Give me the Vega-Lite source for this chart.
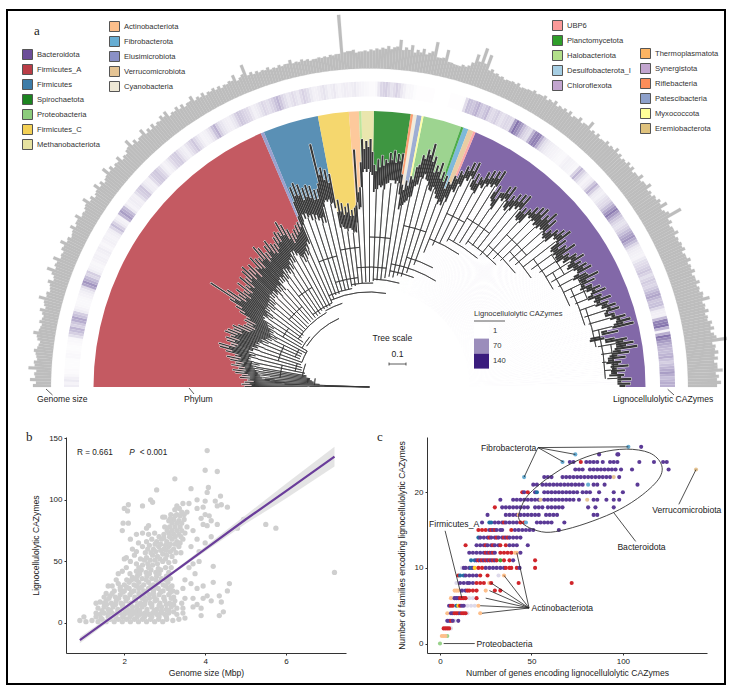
{"$schema":"https://vega.github.io/schema/vega-lite/v6.json","background":"white","padding":{"left":6,"top":9,"right":0,"bottom":0},"bounds":"flush","spacing":0,
"config":{"font":"Liberation Sans","view":{"stroke":null},"axis":{"grid":false,"labelFont":"Liberation Sans","titleFont":"Liberation Sans","labelFontSize":8,"titleFontSize":8.6,"titleFontWeight":"normal","labelColor":"#222","titleColor":"#222","domainColor":"#333","tickColor":"#333","tickSize":2,"labelPadding":2},"legend":{"labelFont":"Liberation Sans","titleFont":"Liberation Sans","labelFontSize":7.6,"labelColor":"#333","symbolOpacity":1}},
"datasets":{
"bins":[{"a":0,"g":3.6,"h":12,"t":125,"d":50},{"a":1,"g":4.2,"h":14,"t":128,"d":60},{"a":2,"g":3.4,"h":6,"t":125,"d":70},{"a":3,"g":4.6,"h":4,"t":122,"d":85},{"a":4,"g":3.6,"h":3,"t":130,"d":95},{"a":5,"g":3.2,"h":3,"t":128,"d":105},{"a":6,"g":3.8,"h":5,"t":135,"d":100},{"a":7,"g":3.0,"h":3,"t":138,"d":108},{"a":8,"g":3.4,"h":4,"t":132,"d":112},{"a":9,"g":4.4,"h":6,"t":140,"d":108},{"a":10,"g":3.2,"h":30,"t":136,"d":115},{"a":11,"g":3.6,"h":45,"t":142,"d":112},{"a":12,"g":3.0,"h":35,"t":146,"d":118},{"a":13,"g":4.0,"h":55,"t":138,"d":122},{"a":14,"g":3.4,"h":30,"t":148,"d":115},{"a":15,"g":4.8,"h":8,"t":155,"d":118},{"a":16,"g":3.6,"h":5,"t":157,"d":120},{"a":17,"g":3.2,"h":6,"t":145,"d":122},{"a":18,"g":4.0,"h":10,"t":150,"d":115},{"a":19,"g":3.2,"h":22,"t":152,"d":118},{"a":20,"g":5.0,"h":65,"t":148,"d":112},{"a":21,"g":3.8,"h":40,"t":155,"d":118},{"a":22,"g":4.6,"h":30,"t":153,"d":115},{"a":23,"g":3.4,"h":8,"t":148,"d":110},{"a":24,"g":3.8,"h":6,"t":150,"d":112},{"a":25,"g":4.6,"h":10,"t":145,"d":108},{"a":26,"g":3.6,"h":8,"t":140,"d":106},{"a":27,"g":3.2,"h":12,"t":138,"d":104},{"a":28,"g":4.2,"h":6,"t":142,"d":108},{"a":29,"g":3.6,"h":10,"t":141,"d":110},{"a":30,"g":4.4,"h":8,"t":150,"d":108},{"a":31,"g":3.4,"h":12,"t":156,"d":112},{"a":32,"g":3.6,"h":40,"t":165,"d":115},{"a":33,"g":4.8,"h":15,"t":190,"d":125},{"a":34,"g":3.8,"h":8,"t":172,"d":122},{"a":35,"g":3.4,"h":60,"t":160,"d":118},{"a":36,"g":4.6,"h":40,"t":165,"d":120},{"a":37,"g":4.0,"h":8,"t":158,"d":125},{"a":38,"g":3.6,"h":12,"t":168,"d":125},{"a":39,"g":5.2,"h":10,"t":160,"d":122},{"a":40,"g":4.4,"h":28,"t":170,"d":125},{"a":41,"g":4.0,"h":35,"t":165,"d":125},{"a":42,"g":4.6,"h":12,"t":172,"d":128},{"a":43,"g":3.8,"h":10,"t":175,"d":130},{"a":44,"g":4.2,"h":30,"t":168,"d":128},{"a":45,"g":5.6,"h":35,"t":172,"d":130},{"a":46,"g":4.6,"h":22,"t":165,"d":125},{"a":47,"g":4.2,"h":8,"t":176,"d":130},{"a":48,"g":5.2,"h":14,"t":172,"d":130},{"a":49,"g":4.4,"h":28,"t":170,"d":128},{"a":50,"g":4.6,"h":32,"t":182,"d":135},{"a":51,"g":4.2,"h":15,"t":178,"d":135},{"a":52,"g":4.8,"h":10,"t":170,"d":132},{"a":53,"g":5.0,"h":22,"t":176,"d":135},{"a":54,"g":4.0,"h":35,"t":180,"d":140},{"a":55,"g":4.4,"h":18,"t":174,"d":138},{"a":56,"g":4.2,"h":8,"t":172,"d":135},{"a":57,"g":3.8,"h":10,"t":178,"d":140},{"a":58,"g":4.6,"h":22,"t":182,"d":145},{"a":59,"g":3.8,"h":48,"t":180,"d":145},{"a":60,"g":4.0,"h":20,"t":190,"d":152},{"a":61,"g":3.6,"h":12,"t":185,"d":150},{"a":62,"g":3.8,"h":10,"t":178,"d":148},{"a":63,"g":3.6,"h":18,"t":172,"d":140},{"a":64,"g":3.4,"h":35,"t":175,"d":142},{"a":65,"g":3.6,"h":28,"t":178,"d":145},{"a":66,"g":4.4,"h":22,"t":180,"d":150},{"a":67,"g":3.4,"h":10,"t":185,"d":155},{"a":68,"g":5.6,"h":15,"t":215,"d":178},{"a":69,"g":3.6,"h":25,"t":218,"d":180},{"a":70,"g":3.4,"h":20,"t":215,"d":180},{"a":71,"g":3.2,"h":30,"t":210,"d":176},{"a":72,"g":3.4,"h":45,"t":212,"d":176},{"a":73,"g":3.0,"h":25,"t":210,"d":174},{"a":74,"g":3.2,"h":15,"t":205,"d":170},{"a":75,"g":3.0,"h":22,"t":205,"d":170},{"a":76,"g":3.6,"h":15,"t":250,"d":190},{"a":77,"g":3.0,"h":28,"t":225,"d":190},{"a":78,"g":3.2,"h":20,"t":222,"d":187},{"a":79,"g":3.0,"h":10,"t":217,"d":182},{"a":80,"g":2.8,"h":12,"t":190,"d":165},{"a":81,"g":3.0,"h":18,"t":186,"d":160},{"a":82,"g":3.0,"h":10,"t":182,"d":157},{"a":83,"g":3.2,"h":15,"t":185,"d":160},{"a":84,"g":3.2,"h":8,"t":178,"d":155},{"a":85,"g":11.0,"h":12,"t":180,"d":155},{"a":86,"g":3.6,"h":10,"t":238,"d":185},{"a":87,"g":3.8,"h":14,"t":200,"d":180},{"a":88,"g":3.4,"h":8,"t":248,"d":215},{"a":89,"g":3.6,"h":6,"t":246,"d":215},{"a":90,"g":3.8,"h":4,"t":248,"d":215},{"a":91,"g":4.0,"h":5,"t":222,"d":195},{"a":92,"g":4.2,"h":25,"t":228,"d":198},{"a":93,"g":4.6,"h":30,"t":232,"d":200},{"a":94,"g":4.4,"h":18,"t":228,"d":198},{"a":95,"g":6.0,"h":28,"t":235,"d":205},{"a":96,"g":4.6,"h":15,"t":238,"d":208},{"a":97,"g":5.2,"h":6,"t":235,"d":205},{"a":98,"g":4.4,"h":5,"t":236,"d":206},{"a":99,"g":4.8,"h":2,"t":205,"d":180},{"a":100,"g":4.2,"h":2,"t":210,"d":185},{"a":101,"g":6.6,"h":2,"t":215,"d":190},{"a":102,"g":3.6,"h":2,"t":225,"d":195},{"a":103,"g":5.5,"h":1,"t":238,"d":208},{"a":104,"g":3.2,"h":1,"t":245,"d":215},{"a":105,"g":3.0,"h":1,"t":252,"d":215},{"a":106,"g":3.4,"h":2,"t":240,"d":210},{"a":107,"g":3.6,"h":2,"t":232,"d":205},{"a":108,"g":6.3,"h":3,"t":236,"d":208},{"a":109,"g":8.0,"h":40,"t":228,"d":200},{"a":110,"g":7.0,"h":35,"t":225,"d":195},{"a":111,"g":4.4,"h":48,"t":220,"d":195},{"a":112,"g":4.0,"h":30,"t":228,"d":200},{"a":113,"g":3.8,"h":42,"t":235,"d":212},{"a":114,"g":3.6,"h":22,"t":242,"d":220},{"a":115,"g":3.8,"h":30,"t":248,"d":228},{"a":116,"g":4.0,"h":18,"t":250,"d":232},{"a":117,"g":3.6,"h":25,"t":240,"d":222},{"a":118,"g":3.8,"h":22,"t":238,"d":220},{"a":119,"g":4.2,"h":85,"t":246,"d":228},{"a":120,"g":4.0,"h":60,"t":250,"d":232},{"a":121,"g":4.4,"h":30,"t":252,"d":234},{"a":122,"g":4.2,"h":20,"t":255,"d":237},{"a":123,"g":4.6,"h":70,"t":240,"d":222},{"a":124,"g":4.2,"h":75,"t":235,"d":215},{"a":125,"g":4.4,"h":30,"t":245,"d":228},{"a":126,"g":4.6,"h":15,"t":248,"d":230},{"a":127,"g":4.2,"h":10,"t":240,"d":222},{"a":128,"g":4.8,"h":8,"t":245,"d":225},{"a":129,"g":4.4,"h":6,"t":248,"d":230},{"a":130,"g":5.6,"h":5,"t":250,"d":232},{"a":131,"g":4.4,"h":10,"t":238,"d":222},{"a":132,"g":4.6,"h":8,"t":240,"d":222},{"a":133,"g":4.2,"h":6,"t":246,"d":232},{"a":134,"g":4.8,"h":45,"t":250,"d":232},{"a":135,"g":4.6,"h":20,"t":252,"d":230},{"a":136,"g":5.2,"h":8,"t":248,"d":230},{"a":137,"g":4.8,"h":15,"t":255,"d":232},{"a":138,"g":4.6,"h":48,"t":250,"d":232},{"a":139,"g":5.0,"h":15,"t":240,"d":228},{"a":140,"g":5.0,"h":10,"t":245,"d":228},{"a":141,"g":4.6,"h":18,"t":250,"d":236},{"a":142,"g":5.4,"h":25,"t":254,"d":236},{"a":143,"g":4.8,"h":50,"t":245,"d":226},{"a":144,"g":5.6,"h":80,"t":242,"d":226},{"a":145,"g":4.8,"h":45,"t":250,"d":226},{"a":146,"g":5.0,"h":25,"t":240,"d":224},{"a":147,"g":5.4,"h":18,"t":246,"d":230},{"a":148,"g":6.2,"h":30,"t":252,"d":236},{"a":149,"g":5.0,"h":50,"t":246,"d":230},{"a":150,"g":8.0,"h":65,"t":250,"d":235},{"a":151,"g":5.2,"h":40,"t":253,"d":237},{"a":152,"g":4.8,"h":15,"t":245,"d":230},{"a":153,"g":5.4,"h":10,"t":256,"d":235},{"a":154,"g":4.8,"h":8,"t":250,"d":235},{"a":155,"g":5.0,"h":20,"t":245,"d":232},{"a":156,"g":5.2,"h":25,"t":252,"d":237},{"a":157,"g":4.8,"h":35,"t":256,"d":240},{"a":158,"g":5.4,"h":20,"t":250,"d":235},{"a":159,"g":5.0,"h":32,"t":258,"d":240},{"a":160,"g":5.4,"h":25,"t":254,"d":240},{"a":161,"g":5.0,"h":40,"t":260,"d":245},{"a":162,"g":5.6,"h":55,"t":262,"d":248},{"a":163,"g":5.2,"h":35,"t":256,"d":246},{"a":164,"g":5.6,"h":40,"t":266,"d":250},{"a":165,"g":6.6,"h":12,"t":270,"d":255},{"a":166,"g":5.4,"h":10,"t":272,"d":250},{"a":167,"g":5.8,"h":75,"t":255,"d":238},{"a":168,"g":5.4,"h":85,"t":240,"d":225},{"a":169,"g":6.0,"h":8,"t":262,"d":240},{"a":170,"g":6.2,"h":85,"t":268,"d":250},{"a":171,"g":6.0,"h":60,"t":271,"d":248},{"a":172,"g":8.4,"h":45,"t":262,"d":245},{"a":173,"g":6.0,"h":40,"t":258,"d":240},{"a":174,"g":6.4,"h":50,"t":253,"d":238},{"a":175,"g":6.2,"h":30,"t":260,"d":242},{"a":176,"g":6.0,"h":45,"t":256,"d":242},{"a":177,"g":7.0,"h":60,"t":255,"d":240},{"a":178,"g":6.2,"h":40,"t":262,"d":248},{"a":179,"g":6.6,"h":50,"t":261,"d":248},
{"a":0.5,"g":3.0,"h":8,"t":118,"d":62},{"a":1.5,"g":3.2,"h":10,"t":120,"d":72},{"a":2.5,"g":3.0,"h":4,"t":116,"d":88},{"a":3.5,"g":3.4,"h":3,"t":120,"d":100},{"a":4.5,"g":3.0,"h":3,"t":120,"d":108},{"a":5.5,"g":3.4,"h":5,"t":122,"d":110},{"a":6.5,"g":3.2,"h":4,"t":126,"d":112},{"a":7.5,"g":2.8,"h":3,"t":125,"d":114},{"a":8.5,"g":3.6,"h":5,"t":126,"d":116},{"a":9.5,"g":3.4,"h":20,"t":130,"d":118},{"a":10.5,"g":3.0,"h":40,"t":128,"d":120},{"a":11.5,"g":3.2,"h":28,"t":134,"d":120},{"a":12.5,"g":3.4,"h":50,"t":132,"d":124},{"a":13.5,"g":3.0,"h":38,"t":135,"d":124},{"a":14.5,"g":3.6,"h":12,"t":142,"d":122},{"a":15.5,"g":3.4,"h":6,"t":146,"d":125},{"a":16.5,"g":3.0,"h":5,"t":140,"d":126},{"a":17.5,"g":3.4,"h":8,"t":138,"d":122},{"a":18.5,"g":3.0,"h":14,"t":142,"d":124},{"a":19.5,"g":3.8,"h":55,"t":138,"d":120},{"a":20.5,"g":3.4,"h":50,"t":144,"d":122},{"a":21.5,"g":3.6,"h":25,"t":142,"d":120},{"a":22.5,"g":3.2,"h":12,"t":138,"d":116},{"a":23.5,"g":3.2,"h":7,"t":140,"d":118},{"a":24.5,"g":3.6,"h":8,"t":132,"d":114},{"a":25.5,"g":3.4,"h":10,"t":130,"d":112},{"a":26.5,"g":3.0,"h":10,"t":128,"d":110},{"a":27.5,"g":3.4,"h":8,"t":132,"d":112},{"a":28.5,"g":3.2,"h":8,"t":130,"d":114},{"a":29.5,"g":3.6,"h":9,"t":138,"d":114},{"a":30.5,"g":3.2,"h":10,"t":145,"d":118},{"a":31.5,"g":3.2,"h":25,"t":150,"d":120},{"a":32.5,"g":3.8,"h":28,"t":160,"d":126},{"a":33.5,"g":3.4,"h":10,"t":155,"d":128},{"a":34.5,"g":3.0,"h":45,"t":150,"d":124},{"a":35.5,"g":3.6,"h":50,"t":152,"d":126},{"a":36.5,"g":3.4,"h":15,"t":148,"d":130},{"a":37.5,"g":3.2,"h":10,"t":152,"d":130},{"a":38.5,"g":3.8,"h":11,"t":150,"d":130},{"a":39.5,"g":3.8,"h":20,"t":155,"d":132},{"a":40.5,"g":3.6,"h":32,"t":152,"d":132},{"a":41.5,"g":3.8,"h":18,"t":158,"d":134},{"a":42.5,"g":3.4,"h":11,"t":160,"d":136},{"a":43.5,"g":3.6,"h":22,"t":156,"d":135},{"a":44.5,"g":4.4,"h":33,"t":160,"d":136},{"a":45.5,"g":4.0,"h":28,"t":154,"d":132},{"a":46.5,"g":3.8,"h":12,"t":162,"d":136},{"a":47.5,"g":4.2,"h":10,"t":160,"d":137},{"a":48.5,"g":3.8,"h":22,"t":158,"d":135},{"a":49.5,"g":3.8,"h":30,"t":165,"d":140},{"a":50.5,"g":3.8,"h":22,"t":165,"d":142},{"a":51.5,"g":4.0,"h":12,"t":160,"d":140},{"a":52.5,"g":4.2,"h":16,"t":162,"d":142},{"a":53.5,"g":3.6,"h":28,"t":168,"d":146},{"a":54.5,"g":3.8,"h":25,"t":164,"d":145},{"a":55.5,"g":3.6,"h":12,"t":162,"d":142},{"a":56.5,"g":3.4,"h":9,"t":165,"d":146},{"a":57.5,"g":3.8,"h":15,"t":170,"d":150},{"a":58.5,"g":3.4,"h":38,"t":170,"d":152},{"a":59.5,"g":3.4,"h":30,"t":175,"d":156},{"a":60.5,"g":3.2,"h":16,"t":174,"d":156},{"a":61.5,"g":3.4,"h":11,"t":168,"d":152},{"a":62.5,"g":3.2,"h":14,"t":162,"d":146},{"a":63.5,"g":3.0,"h":28,"t":165,"d":148},{"a":64.5,"g":3.2,"h":32,"t":168,"d":150},{"a":65.5,"g":3.4,"h":25,"t":170,"d":154},{"a":66.5,"g":3.0,"h":15,"t":174,"d":158},{"a":67.5,"g":3.8,"h":12,"t":200,"d":175},{"a":68.5,"g":3.2,"h":20,"t":205,"d":185},{"a":69.5,"g":3.0,"h":22,"t":204,"d":185},{"a":70.5,"g":3.0,"h":25,"t":198,"d":182},{"a":71.5,"g":3.0,"h":38,"t":200,"d":182},{"a":72.5,"g":2.8,"h":35,"t":198,"d":180},{"a":73.5,"g":2.8,"h":20,"t":195,"d":176},{"a":74.5,"g":2.8,"h":18,"t":195,"d":176},{"a":75.5,"g":3.0,"h":18,"t":210,"d":186},{"a":76.5,"g":2.8,"h":22,"t":218,"d":192},{"a":77.5,"g":2.8,"h":24,"t":212,"d":192},{"a":78.5,"g":2.8,"h":14,"t":208,"d":188},{"a":79.5,"g":2.6,"h":10,"t":178,"d":162},{"a":80.5,"g":2.8,"h":15,"t":178,"d":162},{"a":81.5,"g":2.8,"h":14,"t":174,"d":160},{"a":82.5,"g":2.8,"h":12,"t":176,"d":160},{"a":83.5,"g":3.0,"h":10,"t":172,"d":158},{"a":84.5,"g":3.2,"h":10,"t":172,"d":156},{"a":85.5,"g":3.4,"h":11,"t":182,"d":165},{"a":86.5,"g":3.6,"h":12,"t":195,"d":178},{"a":87.5,"g":3.2,"h":10,"t":225,"d":200},{"a":88.5,"g":3.4,"h":7,"t":238,"d":218},{"a":89.5,"g":3.4,"h":5,"t":240,"d":218},{"a":90.5,"g":3.6,"h":4,"t":235,"d":212},{"a":91.5,"g":3.8,"h":15,"t":216,"d":198},{"a":92.5,"g":4.0,"h":28,"t":220,"d":202},{"a":93.5,"g":4.0,"h":24,"t":222,"d":202},{"a":94.5,"g":4.6,"h":22,"t":225,"d":204},{"a":95.5,"g":4.0,"h":22,"t":228,"d":208},{"a":96.5,"g":4.2,"h":10,"t":226,"d":208},{"a":97.5,"g":3.8,"h":6,"t":228,"d":208},{"a":98.5,"g":4.0,"h":3,"t":215,"d":195},{"a":99.5,"g":3.8,"h":2,"t":200,"d":184},{"a":100.5,"g":4.6,"h":2,"t":205,"d":188},{"a":101.5,"g":3.6,"h":2,"t":212,"d":194},{"a":102.5,"g":3.8,"h":1,"t":228,"d":206},{"a":103.5,"g":3.2,"h":1,"t":235,"d":216},{"a":104.5,"g":3.0,"h":1,"t":240,"d":220},{"a":105.5,"g":3.0,"h":2,"t":234,"d":214},{"a":106.5,"g":3.2,"h":2,"t":224,"d":206},{"a":107.5,"g":4.4,"h":2,"t":226,"d":210},{"a":108.5,"g":5.0,"h":22,"t":220,"d":204},{"a":109.5,"g":5.0,"h":38,"t":218,"d":200},{"a":110.5,"g":4.0,"h":42,"t":212,"d":198},{"a":111.5,"g":3.8,"h":36,"t":218,"d":204},{"a":112.5,"g":3.6,"h":36,"t":226,"d":214},{"a":113.5,"g":3.4,"h":26,"t":232,"d":222},{"a":114.5,"g":3.6,"h":26,"t":238,"d":230},{"a":115.5,"g":3.6,"h":22,"t":240,"d":234},{"a":116.5,"g":3.4,"h":22,"t":232,"d":224},{"a":117.5,"g":3.6,"h":24,"t":230,"d":222},{"a":118.5,"g":3.8,"h":60,"t":236,"d":230},{"a":119.5,"g":3.8,"h":72,"t":240,"d":234},{"a":120.5,"g":4.0,"h":42,"t":243,"d":236},{"a":121.5,"g":3.8,"h":24,"t":245,"d":238},{"a":122.5,"g":4.0,"h":45,"t":232,"d":224},{"a":123.5,"g":3.8,"h":78,"t":226,"d":218},{"a":124.5,"g":4.0,"h":50,"t":236,"d":230},{"a":125.5,"g":4.0,"h":20,"t":238,"d":232},{"a":126.5,"g":3.8,"h":12,"t":232,"d":224},{"a":127.5,"g":4.2,"h":9,"t":236,"d":228},{"a":128.5,"g":4.0,"h":7,"t":238,"d":232},{"a":129.5,"g":4.4,"h":5,"t":240,"d":234},{"a":130.5,"g":4.0,"h":8,"t":232,"d":224},{"a":131.5,"g":4.0,"h":9,"t":232,"d":224},{"a":132.5,"g":4.0,"h":7,"t":238,"d":234},{"a":133.5,"g":4.2,"h":28,"t":240,"d":234},{"a":134.5,"g":4.2,"h":30,"t":243,"d":234},{"a":135.5,"g":4.4,"h":12,"t":240,"d":232},{"a":136.5,"g":4.4,"h":11,"t":244,"d":234},{"a":137.5,"g":4.2,"h":35,"t":242,"d":234},{"a":138.5,"g":4.4,"h":30,"t":234,"d":230},{"a":139.5,"g":4.4,"h":12,"t":238,"d":230},{"a":140.5,"g":4.2,"h":14,"t":242,"d":238},{"a":141.5,"g":4.6,"h":22,"t":245,"d":238},{"a":142.5,"g":4.4,"h":38,"t":238,"d":228},{"a":143.5,"g":4.8,"h":65,"t":234,"d":228},{"a":144.5,"g":4.4,"h":62,"t":240,"d":228},{"a":145.5,"g":4.4,"h":35,"t":234,"d":226},{"a":146.5,"g":4.8,"h":20,"t":238,"d":232},{"a":147.5,"g":5.0,"h":24,"t":244,"d":238},{"a":148.5,"g":4.6,"h":40,"t":240,"d":232},{"a":149.5,"g":5.6,"h":58,"t":242,"d":236},{"a":150.5,"g":4.8,"h":52,"t":245,"d":238},{"a":151.5,"g":4.4,"h":25,"t":238,"d":232},{"a":152.5,"g":4.8,"h":12,"t":246,"d":236},{"a":153.5,"g":4.4,"h":9,"t":242,"d":236},{"a":154.5,"g":4.6,"h":14,"t":238,"d":234},{"a":155.5,"g":4.8,"h":22,"t":244,"d":238},{"a":156.5,"g":4.4,"h":30,"t":246,"d":242},{"a":157.5,"g":4.8,"h":28,"t":242,"d":236},{"a":158.5,"g":4.6,"h":26,"t":248,"d":242},{"a":159.5,"g":4.8,"h":28,"t":246,"d":242},{"a":160.5,"g":4.6,"h":32,"t":252,"d":246},{"a":161.5,"g":5.0,"h":48,"t":254,"d":250},{"a":162.5,"g":4.8,"h":45,"t":250,"d":246},{"a":163.5,"g":5.0,"h":38,"t":256,"d":252},{"a":164.5,"g":5.4,"h":25,"t":260,"d":256},{"a":165.5,"g":5.0,"h":11,"t":262,"d":252},{"a":166.5,"g":5.2,"h":42,"t":244,"d":238},{"a":167.5,"g":5.0,"h":80,"t":236,"d":226},{"a":168.5,"g":5.2,"h":45,"t":250,"d":240},{"a":169.5,"g":5.6,"h":50,"t":258,"d":250},{"a":170.5,"g":5.4,"h":72,"t":260,"d":250},{"a":171.5,"g":6.4,"h":52,"t":254,"d":246},{"a":172.5,"g":5.4,"h":42,"t":250,"d":242},{"a":173.5,"g":5.8,"h":45,"t":246,"d":240},{"a":174.5,"g":5.6,"h":38,"t":250,"d":243},{"a":175.5,"g":5.4,"h":38,"t":248,"d":243},{"a":176.5,"g":6.0,"h":52,"t":248,"d":242},{"a":177.5,"g":5.6,"h":50,"t":252,"d":248},{"a":178.5,"g":5.8,"h":45,"t":252,"d":248},{"a":179.5,"g":5.8,"h":48,"t":256,"d":250}],
"tree":[{"a0":0.8,"a1":0.8,"r0":0,"r1":60},{"a0":1.5,"a1":1.5,"r0":0,"r1":45},{"a0":2,"a1":2,"r0":0,"r1":85},{"a0":3,"a1":3,"r0":50,"r1":95},{"a0":4,"a1":4,"r0":56,"r1":105},{"a0":5,"a1":5,"r0":56,"r1":105},{"a0":6,"a1":6,"r0":58,"r1":100},{"a0":7,"a1":7,"r0":60,"r1":108},{"a0":8,"a1":8,"r0":60,"r1":112},{"a0":9,"a1":9,"r0":64,"r1":108},{"a0":10,"a1":10,"r0":64,"r1":115},{"a0":12,"a1":12,"r0":66,"r1":118},{"a0":14,"a1":14,"r0":70,"r1":115},{"a0":16,"a1":16,"r0":70,"r1":120},{"a0":18,"a1":18,"r0":72,"r1":115},{"a0":20,"a1":20,"r0":72,"r1":112},{"a0":22,"a1":22,"r0":75,"r1":115},{"a0":24,"a1":24,"r0":75,"r1":112},{"a0":26,"a1":26,"r0":75,"r1":106},{"a0":28,"a1":28,"r0":72,"r1":108},{"a0":30,"a1":30,"r0":72,"r1":108},{"a0":32,"a1":32,"r0":80,"r1":115},{"a0":34,"a1":34,"r0":80,"r1":122},{"a0":36,"a1":36,"r0":84,"r1":120},{"a0":38,"a1":38,"r0":84,"r1":125},{"a0":40,"a1":40,"r0":86,"r1":125},{"a0":42,"a1":42,"r0":86,"r1":128},{"a0":44,"a1":44,"r0":86,"r1":128},{"a0":46,"a1":46,"r0":88,"r1":125},{"a0":48,"a1":48,"r0":88,"r1":130},{"a0":50,"a1":50,"r0":88,"r1":128},{"a0":52,"a1":52,"r0":88,"r1":132},{"a0":54,"a1":54,"r0":88,"r1":140},{"a0":56,"a1":56,"r0":88,"r1":135},{"a0":58,"a1":58,"r0":90,"r1":145},{"a0":60,"a1":60,"r0":90,"r1":152},{"a0":62,"a1":62,"r0":90,"r1":148},{"a0":64,"a1":64,"r0":90,"r1":142},{"a0":66,"a1":66,"r0":92,"r1":150},{"a0":68,"a1":68,"r0":95,"r1":178},{"a0":70,"a1":70,"r0":98,"r1":180},{"a0":72,"a1":72,"r0":98,"r1":176},{"a0":74,"a1":74,"r0":100,"r1":170},{"a0":76,"a1":76,"r0":100,"r1":190},{"a0":78,"a1":78,"r0":100,"r1":187},{"a0":80,"a1":80,"r0":102,"r1":165},{"a0":82,"a1":82,"r0":102,"r1":157},{"a0":84,"a1":84,"r0":104,"r1":155},{"a0":86,"a1":86,"r0":104,"r1":185},{"a0":88,"a1":88,"r0":105,"r1":215},{"a0":90,"a1":90,"r0":105,"r1":215},{"a0":92,"a1":92,"r0":106,"r1":198},{"a0":94,"a1":94,"r0":107,"r1":198},{"a0":96,"a1":96,"r0":108,"r1":205},{"a0":98,"a1":98,"r0":110,"r1":206},{"a0":100,"a1":100,"r0":112,"r1":185},{"a0":102,"a1":102,"r0":112,"r1":195},{"a0":104,"a1":104,"r0":115,"r1":215},{"a0":106,"a1":106,"r0":115,"r1":210},{"a0":108,"a1":108,"r0":120,"r1":208},{"a0":110,"a1":110,"r0":130,"r1":195},{"a0":112,"a1":112,"r0":145,"r1":200},{"a0":114,"a1":114,"r0":155,"r1":220},{"a0":116,"a1":116,"r0":160,"r1":232},{"a0":118,"a1":118,"r0":165,"r1":220},{"a0":120,"a1":120,"r0":168,"r1":232},{"a0":122,"a1":122,"r0":170,"r1":237},{"a0":124,"a1":124,"r0":172,"r1":215},{"a0":126,"a1":126,"r0":175,"r1":230},{"a0":128,"a1":128,"r0":175,"r1":225},{"a0":130,"a1":130,"r0":172,"r1":232},{"a0":132,"a1":132,"r0":175,"r1":222},{"a0":134,"a1":134,"r0":178,"r1":232},{"a0":136,"a1":136,"r0":182,"r1":230},{"a0":138,"a1":138,"r0":188,"r1":232},{"a0":140,"a1":140,"r0":190,"r1":228},{"a0":142,"a1":142,"r0":195,"r1":236},{"a0":144,"a1":144,"r0":200,"r1":226},{"a0":146,"a1":146,"r0":205,"r1":224},{"a0":148,"a1":148,"r0":208,"r1":236},{"a0":150,"a1":150,"r0":210,"r1":235},{"a0":152,"a1":152,"r0":214,"r1":230},{"a0":154,"a1":154,"r0":216,"r1":235},{"a0":156,"a1":156,"r0":220,"r1":237},{"a0":158,"a1":158,"r0":222,"r1":235},{"a0":160,"a1":160,"r0":224,"r1":240},{"a0":162,"a1":162,"r0":226,"r1":248},{"a0":164,"a1":164,"r0":228,"r1":250},{"a0":166,"a1":166,"r0":230,"r1":250},{"a0":170,"a1":170,"r0":232,"r1":250},{"a0":172,"a1":172,"r0":234,"r1":245},{"a0":174,"a1":174,"r0":234,"r1":238},{"a0":176,"a1":176,"r0":236,"r1":242},{"a0":178,"a1":178,"r0":238,"r1":248},
{"a0":2,"a1":9,"r0":55,"r1":55},{"a0":4,"a1":8,"r0":62,"r1":62},{"a0":9,"a1":20,"r0":68,"r1":68},{"a0":12,"a1":18,"r0":76,"r1":76},{"a0":20,"a1":30,"r0":72,"r1":72},{"a0":22,"a1":28,"r0":80,"r1":80},{"a0":30,"a1":40,"r0":78,"r1":78},{"a0":34,"a1":46,"r0":86,"r1":86},{"a0":46,"a1":60,"r0":86,"r1":86},{"a0":52,"a1":66,"r0":92,"r1":92},{"a0":60,"a1":72,"r0":88,"r1":88},{"a0":66,"a1":80,"r0":100,"r1":100},{"a0":72,"a1":84,"r0":110,"r1":110},{"a0":80,"a1":92,"r0":104,"r1":104},{"a0":84,"a1":98,"r0":120,"r1":120},{"a0":92,"a1":106,"r0":108,"r1":108},{"a0":100,"a1":112,"r0":118,"r1":118},{"a0":106,"a1":118,"r0":135,"r1":135},{"a0":112,"a1":124,"r0":160,"r1":160},{"a0":118,"a1":130,"r0":168,"r1":168},{"a0":124,"a1":136,"r0":176,"r1":176},{"a0":130,"a1":142,"r0":185,"r1":185},{"a0":136,"a1":146,"r0":195,"r1":195},{"a0":142,"a1":152,"r0":208,"r1":208},{"a0":148,"a1":158,"r0":216,"r1":216},{"a0":154,"a1":164,"r0":224,"r1":224},{"a0":160,"a1":170,"r0":230,"r1":230},{"a0":166,"a1":178,"r0":236,"r1":236},{"a0":170,"a1":176,"r0":245,"r1":245},{"a0":120,"a1":128,"r0":195,"r1":195},{"a0":132,"a1":140,"r0":205,"r1":205},{"a0":144,"a1":150,"r0":225,"r1":225},{"a0":152,"a1":158,"r0":235,"r1":235},{"a0":6,"a1":14,"r0":90,"r1":90},{"a0":16,"a1":26,"r0":95,"r1":95},{"a0":30,"a1":36,"r0":100,"r1":100},{"a0":40,"a1":50,"r0":105,"r1":105},{"a0":52,"a1":60,"r0":115,"r1":115},{"a0":68,"a1":76,"r0":135,"r1":135},{"a0":78,"a1":86,"r0":140,"r1":140},{"a0":90,"a1":98,"r0":150,"r1":150},{"a0":102,"a1":110,"r0":165,"r1":165},{"a0":114,"a1":120,"r0":190,"r1":190},{"a0":33,"a1":66,"r0":75,"r1":75},{"a0":66,"a1":100,"r0":95,"r1":95},{"a0":100,"a1":122,"r0":125,"r1":125}],
"scat":[{"x":0.9,"y":2},{"x":1.0,"y":5},{"x":1.05,"y":1},{"x":1.2,"y":2},{"x":1.3,"y":5},{"x":1.35,"y":1},{"x":1.45,"y":3},{"x":1.55,"y":1},{"x":1.65,"y":3},{"x":1.75,"y":1},{"x":1.85,"y":3},{"x":1.95,"y":1},{"x":2.05,"y":3},{"x":2.15,"y":1},{"x":2.25,"y":3},{"x":2.35,"y":1},{"x":2.45,"y":3},{"x":2.55,"y":1},{"x":2.65,"y":3},{"x":2.75,"y":1},{"x":2.85,"y":3},{"x":2.95,"y":1},{"x":3.05,"y":3},{"x":3.2,"y":2},{"x":1.3,"y":8},{"x":1.4,"y":7},{"x":1.5,"y":8},{"x":1.6,"y":7},{"x":1.7,"y":8},{"x":1.8,"y":7},{"x":1.9,"y":8},{"x":2.0,"y":7},{"x":2.1,"y":8},{"x":2.2,"y":7},{"x":2.3,"y":8},{"x":2.4,"y":7},{"x":2.5,"y":8},{"x":2.6,"y":7},{"x":2.7,"y":8},{"x":2.8,"y":7},{"x":2.9,"y":8},{"x":3.0,"y":7},{"x":3.1,"y":8},{"x":3.3,"y":7},{"x":3.45,"y":8},{"x":1.35,"y":12},{"x":1.5,"y":13},{"x":1.6,"y":11},{"x":1.72,"y":13},{"x":1.84,"y":11},{"x":1.96,"y":13},{"x":2.08,"y":11},{"x":2.2,"y":13},{"x":2.32,"y":11},{"x":2.44,"y":13},{"x":2.56,"y":11},{"x":2.68,"y":13},{"x":2.8,"y":11},{"x":2.92,"y":13},{"x":3.04,"y":11},{"x":3.16,"y":13},{"x":3.3,"y":12},{"x":3.45,"y":12},{"x":1.4,"y":17},{"x":1.55,"y":18},{"x":1.68,"y":16},{"x":1.8,"y":18},{"x":1.92,"y":16},{"x":2.04,"y":18},{"x":2.16,"y":16},{"x":2.28,"y":18},{"x":2.4,"y":16},{"x":2.52,"y":18},{"x":2.64,"y":16},{"x":2.76,"y":18},{"x":2.88,"y":16},{"x":3.0,"y":18},{"x":3.12,"y":16},{"x":3.25,"y":18},{"x":3.42,"y":16},{"x":1.5,"y":21},{"x":1.65,"y":22},{"x":1.78,"y":21},{"x":1.9,"y":23},{"x":2.02,"y":21},{"x":2.14,"y":23},{"x":2.26,"y":21},{"x":2.38,"y":23},{"x":2.5,"y":21},{"x":2.62,"y":23},{"x":2.74,"y":21},{"x":2.86,"y":23},{"x":2.98,"y":21},{"x":3.1,"y":23},{"x":3.22,"y":21},{"x":1.75,"y":26},{"x":1.9,"y":27},{"x":2.0,"y":26},{"x":2.12,"y":28},{"x":2.24,"y":26},{"x":2.36,"y":28},{"x":2.48,"y":26},{"x":2.6,"y":28},{"x":2.72,"y":26},{"x":2.84,"y":28},{"x":2.96,"y":26},{"x":3.08,"y":28},{"x":3.2,"y":26},{"x":1.85,"y":32},{"x":2.0,"y":31},{"x":2.12,"y":33},{"x":2.24,"y":31},{"x":2.36,"y":33},{"x":2.48,"y":31},{"x":2.6,"y":33},{"x":2.72,"y":31},{"x":2.84,"y":33},{"x":2.96,"y":31},{"x":3.08,"y":33},{"x":3.18,"y":30},{"x":2.2,"y":37},{"x":2.32,"y":38},{"x":2.44,"y":36},{"x":2.56,"y":38},{"x":2.68,"y":36},{"x":2.8,"y":38},{"x":2.92,"y":36},{"x":3.04,"y":38},{"x":2.3,"y":42},{"x":2.42,"y":43},{"x":2.54,"y":41},{"x":2.66,"y":43},{"x":2.78,"y":41},{"x":2.9,"y":43},{"x":3.02,"y":45},{"x":2.45,"y":47},{"x":2.58,"y":48},{"x":2.7,"y":47},{"x":2.82,"y":48},{"x":2.95,"y":50},{"x":3.1,"y":49},{"x":3.25,"y":50},{"x":2.0,"y":52},{"x":2.05,"y":53},{"x":2.25,"y":55},{"x":2.2,"y":60},{"x":2.3,"y":58},{"x":2.4,"y":52},{"x":2.55,"y":53},{"x":2.7,"y":55},{"x":2.82,"y":54},{"x":2.95,"y":56},{"x":3.05,"y":55},{"x":3.18,"y":54},{"x":2.45,"y":62},{"x":2.58,"y":60},{"x":2.72,"y":60},{"x":2.85,"y":62},{"x":2.98,"y":60},{"x":3.1,"y":62},{"x":3.22,"y":60},{"x":3.35,"y":62},{"x":2.55,"y":66},{"x":2.68,"y":68},{"x":2.8,"y":66},{"x":2.92,"y":68},{"x":3.05,"y":66},{"x":3.18,"y":68},{"x":3.3,"y":66},{"x":3.45,"y":68},{"x":2.6,"y":72},{"x":2.75,"y":73},{"x":2.98,"y":72},{"x":3.1,"y":73},{"x":3.22,"y":72},{"x":3.35,"y":72},{"x":3.5,"y":73},{"x":3.0,"y":78},{"x":3.12,"y":78},{"x":3.25,"y":78},{"x":3.38,"y":78},{"x":3.55,"y":78},{"x":3.1,"y":83},{"x":3.22,"y":84},{"x":3.35,"y":83},{"x":3.48,"y":84},{"x":2.95,"y":86},{"x":3.3,"y":88},{"x":3.42,"y":90},{"x":3.25,"y":92},{"x":3.3,"y":95},{"x":3.55,"y":90},{"x":3.45,"y":97},{"x":3.6,"y":97},{"x":1.95,"y":75},{"x":1.97,"y":81},{"x":2.1,"y":81},{"x":2.0,"y":93},{"x":2.08,"y":91},{"x":2.1,"y":96},{"x":2.45,"y":95},{"x":2.65,"y":100},{"x":2.7,"y":98},{"x":2.8,"y":108},{"x":3.25,"y":117},{"x":3.65,"y":109},{"x":3.8,"y":100},{"x":4.0,"y":99},{"x":4.05,"y":106},{"x":4.08,"y":110},{"x":4.05,"y":140},{"x":4.0,"y":124},{"x":4.3,"y":123},{"x":4.25,"y":99},{"x":4.38,"y":103},{"x":4.3,"y":95},{"x":4.4,"y":96},{"x":4.55,"y":94},{"x":3.8,"y":93},{"x":3.95,"y":94},{"x":4.0,"y":88},{"x":3.9,"y":85},{"x":4.1,"y":87},{"x":4.15,"y":83},{"x":3.95,"y":80},{"x":4.05,"y":79},{"x":4.3,"y":80},{"x":4.8,"y":77},{"x":4.95,"y":84},{"x":5.5,"y":80},{"x":5.75,"y":77},{"x":7.2,"y":41},{"x":3.7,"y":75},{"x":3.8,"y":68},{"x":3.65,"y":62},{"x":3.85,"y":58},{"x":4.0,"y":65},{"x":4.15,"y":70},{"x":4.2,"y":46},{"x":3.85,"y":50},{"x":3.7,"y":48},{"x":3.6,"y":45},{"x":3.75,"y":40},{"x":3.5,"y":35},{"x":3.65,"y":32},{"x":3.8,"y":28},{"x":3.95,"y":30},{"x":4.2,"y":33},{"x":4.6,"y":32},{"x":4.55,"y":26},{"x":4.35,"y":22},{"x":4.05,"y":22},{"x":3.95,"y":20},{"x":4.15,"y":18},{"x":4.4,"y":17},{"x":3.45,"y":28},{"x":3.3,"y":25},{"x":3.5,"y":20},{"x":3.7,"y":20},{"x":3.8,"y":15},{"x":3.9,"y":12},{"x":3.9,"y":6},{"x":4.35,"y":6},{"x":4.45,"y":9},{"x":3.5,"y":4},{"x":3.35,"y":3},{"x":3.7,"y":13},{"x":2.15,"y":68},{"x":2.3,"y":72},{"x":2.45,"y":73},{"x":2.35,"y":65},{"x":1.5,"y":16},{"x":1.3,"y":16},{"x":1.55,"y":24},{"x":1.6,"y":30},{"x":1.7,"y":30},{"x":1.85,"y":40},{"x":1.95,"y":42},{"x":1.8,"y":35},{"x":2.05,"y":45},{"x":2.15,"y":50},{"x":3.0,"y":86},{"x":3.15,"y":88},{"x":2.6,"y":79},{"x":2.55,"y":77},
{"x":1.42,"y":4},{"x":1.6,"y":5},{"x":1.78,"y":5},{"x":1.96,"y":5},{"x":2.14,"y":5},{"x":2.32,"y":5},{"x":2.5,"y":5},{"x":2.68,"y":5},{"x":2.86,"y":5},{"x":3.04,"y":5},{"x":1.45,"y":10},{"x":1.66,"y":10},{"x":1.84,"y":9},{"x":2.02,"y":10},{"x":2.2,"y":10},{"x":2.38,"y":10},{"x":2.56,"y":9},{"x":2.74,"y":10},{"x":2.92,"y":10},{"x":3.1,"y":10},{"x":3.22,"y":9},{"x":1.56,"y":15},{"x":1.78,"y":15},{"x":1.96,"y":15},{"x":2.14,"y":15},{"x":2.32,"y":14},{"x":2.5,"y":15},{"x":2.68,"y":15},{"x":2.86,"y":14},{"x":3.04,"y":15},{"x":3.22,"y":15},{"x":1.62,"y":20},{"x":1.86,"y":20},{"x":2.08,"y":20},{"x":2.26,"y":19},{"x":2.44,"y":20},{"x":2.62,"y":20},{"x":2.8,"y":19},{"x":2.98,"y":20},{"x":3.16,"y":20},{"x":1.7,"y":24},{"x":1.96,"y":25},{"x":2.18,"y":25},{"x":2.36,"y":24},{"x":2.54,"y":25},{"x":2.72,"y":24},{"x":2.9,"y":25},{"x":3.14,"y":25},{"x":1.9,"y":29},{"x":2.06,"y":29},{"x":2.3,"y":30},{"x":2.42,"y":29},{"x":2.66,"y":30},{"x":2.78,"y":29},{"x":3.02,"y":30},{"x":3.14,"y":29},{"x":2.06,"y":35},{"x":2.18,"y":35},{"x":2.3,"y":35},{"x":2.54,"y":35},{"x":2.78,"y":35},{"x":3.02,"y":35},{"x":3.14,"y":36},{"x":2.14,"y":40},{"x":2.38,"y":40},{"x":2.62,"y":40},{"x":2.86,"y":40},{"x":3.1,"y":41},{"x":2.36,"y":45},{"x":2.6,"y":45},{"x":2.84,"y":44},{"x":3.16,"y":45},{"x":2.3,"y":48},{"x":2.5,"y":51},{"x":2.64,"y":51},{"x":2.76,"y":51},{"x":2.88,"y":52},{"x":3.02,"y":52},{"x":3.14,"y":58},{"x":2.52,"y":57},{"x":2.66,"y":57},{"x":2.78,"y":58},{"x":2.9,"y":59},{"x":3.04,"y":59},{"x":3.28,"y":57},{"x":3.4,"y":57},{"x":2.62,"y":63},{"x":2.76,"y":64},{"x":2.9,"y":64},{"x":3.02,"y":63},{"x":3.14,"y":64},{"x":3.26,"y":64},{"x":3.38,"y":65},{"x":2.86,"y":70},{"x":2.98,"y":69},{"x":3.12,"y":70},{"x":3.26,"y":70},{"x":3.4,"y":70},{"x":3.06,"y":75},{"x":3.18,"y":75},{"x":3.3,"y":75},{"x":3.42,"y":75},{"x":3.18,"y":81},{"x":3.3,"y":81},{"x":3.42,"y":81},{"x":3.14,"y":85},{"x":3.26,"y":87},{"x":3.38,"y":87},{"x":3.48,"y":88},{"x":3.36,"y":93}],
"fit":[{"x":0.9,"y":-14,"lo":-16.5,"hi":-11.5},{"x":2,"y":12,"lo":10.5,"hi":13.5},{"x":3,"y":36,"lo":35,"hi":37},{"x":4,"y":60,"lo":58,"hi":62},{"x":5,"y":84,"lo":80.5,"hi":87.5},{"x":6,"y":107,"lo":101,"hi":113},{"x":7.2,"y":135,"lo":127,"hi":143}],
"cazy":[{"x":4,"y":1,"p":"G"},{"x":1,"y":1,"p":"A"},{"x":2,"y":1,"p":"A"},{"x":3,"y":1,"p":"A"},{"x":0,"y":0,"p":"G"},{"x":6,"y":2,"p":"L"},{"x":2,"y":2,"p":"R"},{"x":3,"y":2,"p":"R"},{"x":4,"y":2,"p":"R"},{"x":5,"y":2,"p":"R"},{"x":8,"y":3,"p":"L"},{"x":4,"y":3,"p":"B"},{"x":5,"y":3,"p":"B"},{"x":6,"y":3,"p":"R"},{"x":7,"y":3,"p":"B"},{"x":10,"y":3,"p":"B"},{"x":15,"y":4,"p":"L"},{"x":4,"y":4,"p":"A"},{"x":6,"y":4,"p":"B"},{"x":7,"y":4,"p":"B"},{"x":8,"y":4,"p":"R"},{"x":9,"y":4,"p":"R"},{"x":10,"y":4,"p":"R"},{"x":11,"y":4,"p":"B"},{"x":12,"y":4,"p":"R"},{"x":13,"y":4,"p":"R"},{"x":14,"y":4,"p":"R"},{"x":22,"y":4,"p":"A"},{"x":15,"y":5,"p":"L"},{"x":17,"y":5,"p":"L"},{"x":19,"y":5,"p":"L"},{"x":5,"y":5,"p":"B"},{"x":6,"y":5,"p":"R"},{"x":7,"y":5,"p":"R"},{"x":9,"y":5,"p":"F"},{"x":10,"y":5,"p":"Y"},{"x":11,"y":5,"p":"R"},{"x":12,"y":5,"p":"B"},{"x":13,"y":5,"p":"B"},{"x":21,"y":5,"p":"A"},{"x":7,"y":6,"p":"L"},{"x":16,"y":6,"p":"L"},{"x":18,"y":6,"p":"L"},{"x":6,"y":6,"p":"A"},{"x":8,"y":6,"p":"B"},{"x":9,"y":6,"p":"B"},{"x":10,"y":6,"p":"B"},{"x":11,"y":6,"p":"R"},{"x":12,"y":6,"p":"R"},{"x":13,"y":6,"p":"R"},{"x":14,"y":6,"p":"R"},{"x":20,"y":6,"p":"R"},{"x":11,"y":7,"p":"L"},{"x":13,"y":7,"p":"L"},{"x":8,"y":7,"p":"A"},{"x":9,"y":7,"p":"A"},{"x":10,"y":7,"p":"A"},{"x":12,"y":7,"p":"B"},{"x":14,"y":7,"p":"B"},{"x":15,"y":7,"p":"R"},{"x":16,"y":7,"p":"R"},{"x":18,"y":7,"p":"R"},{"x":20,"y":7,"p":"R"},{"x":25,"y":7,"p":"A"},{"x":30,"y":7,"p":"R"},{"x":33,"y":7,"p":"R"},{"x":9,"y":8,"p":"L"},{"x":10,"y":8,"p":"L"},{"x":11,"y":8,"p":"B"},{"x":13,"y":8,"p":"B"},{"x":15,"y":8,"p":"B"},{"x":16,"y":8,"p":"B"},{"x":18,"y":8,"p":"B"},{"x":20,"y":8,"p":"R"},{"x":22,"y":8,"p":"R"},{"x":24,"y":8,"p":"R"},{"x":27,"y":8,"p":"A"},{"x":28,"y":8,"p":"R"},{"x":43,"y":8,"p":"R"},{"x":72,"y":8,"p":"R"},{"x":32,"y":9,"p":"L"},{"x":10,"y":9,"p":"R"},{"x":11,"y":9,"p":"F"},{"x":13,"y":9,"p":"F"},{"x":14,"y":9,"p":"B"},{"x":16,"y":9,"p":"B"},{"x":18,"y":9,"p":"B"},{"x":20,"y":9,"p":"B"},{"x":22,"y":9,"p":"R"},{"x":26,"y":9,"p":"R"},{"x":35,"y":9,"p":"A"},{"x":12,"y":10,"p":"L"},{"x":13,"y":10,"p":"B"},{"x":14,"y":10,"p":"B"},{"x":16,"y":10,"p":"B"},{"x":17,"y":10,"p":"F"},{"x":18,"y":10,"p":"B"},{"x":19,"y":10,"p":"Y"},{"x":21,"y":10,"p":"R"},{"x":23,"y":10,"p":"R"},{"x":25,"y":10,"p":"B"},{"x":27,"y":10,"p":"B"},{"x":29,"y":10,"p":"B"},{"x":31,"y":10,"p":"B"},{"x":33,"y":10,"p":"B"},{"x":35,"y":10,"p":"B"},{"x":36,"y":10,"p":"R"},{"x":38,"y":10,"p":"R"},{"x":39,"y":10,"p":"R"},{"x":42,"y":10,"p":"R"},{"x":43.5,"y":10,"p":"B"},{"x":52,"y":10,"p":"R"},{"x":17,"y":11,"p":"F"},{"x":19,"y":11,"p":"F"},{"x":20,"y":11,"p":"B"},{"x":21,"y":11,"p":"R"},{"x":22,"y":11,"p":"B"},{"x":23,"y":11,"p":"R"},{"x":24,"y":11,"p":"B"},{"x":25,"y":11,"p":"R"},{"x":26,"y":11,"p":"B"},{"x":27,"y":11,"p":"R"},{"x":28,"y":11,"p":"B"},{"x":29,"y":11,"p":"R"},{"x":30,"y":11,"p":"B"},{"x":31,"y":11,"p":"R"},{"x":33,"y":11,"p":"S"},{"x":35,"y":11,"p":"R"},{"x":38,"y":11,"p":"R"},{"x":40,"y":11,"p":"B"},{"x":52,"y":11,"p":"R"},{"x":16,"y":12,"p":"B"},{"x":18,"y":12,"p":"B"},{"x":20,"y":12,"p":"B"},{"x":22,"y":12,"p":"B"},{"x":24,"y":12,"p":"B"},{"x":25,"y":12,"p":"R"},{"x":26,"y":12,"p":"B"},{"x":27,"y":12,"p":"R"},{"x":28,"y":12,"p":"B"},{"x":29,"y":12,"p":"R"},{"x":30,"y":12,"p":"B"},{"x":33,"y":12,"p":"R"},{"x":35,"y":12,"p":"R"},{"x":37,"y":12,"p":"R"},{"x":39,"y":12,"p":"R"},{"x":41,"y":12,"p":"A"},{"x":42,"y":12,"p":"A"},{"x":44,"y":12,"p":"B"},{"x":14,"y":13,"p":"R"},{"x":20,"y":13,"p":"B"},{"x":22,"y":13,"p":"B"},{"x":24,"y":13,"p":"B"},{"x":25,"y":13,"p":"R"},{"x":26,"y":13,"p":"B"},{"x":28,"y":13,"p":"B"},{"x":29,"y":13,"p":"R"},{"x":30,"y":13,"p":"B"},{"x":32,"y":13,"p":"B"},{"x":33,"y":13,"p":"R"},{"x":36,"y":13,"p":"R"},{"x":38,"y":13,"p":"B"},{"x":40,"y":13,"p":"B"},{"x":42,"y":13,"p":"B"},{"x":48,"y":13,"p":"B"},{"x":21,"y":14,"p":"F"},{"x":22,"y":14,"p":"B"},{"x":24,"y":14,"p":"B"},{"x":26,"y":14,"p":"B"},{"x":27,"y":14,"p":"R"},{"x":28,"y":14,"p":"B"},{"x":30,"y":14,"p":"B"},{"x":31,"y":14,"p":"R"},{"x":32,"y":14,"p":"B"},{"x":34,"y":14,"p":"B"},{"x":35,"y":14,"p":"R"},{"x":36,"y":14,"p":"B"},{"x":37,"y":14,"p":"R"},{"x":38,"y":14,"p":"B"},{"x":40,"y":14,"p":"B"},{"x":42,"y":14,"p":"B"},{"x":44,"y":14,"p":"B"},{"x":21,"y":15,"p":"R"},{"x":23,"y":15,"p":"R"},{"x":25,"y":15,"p":"R"},{"x":27,"y":15,"p":"B"},{"x":28,"y":15,"p":"R"},{"x":29,"y":15,"p":"B"},{"x":30,"y":15,"p":"R"},{"x":31,"y":15,"p":"B"},{"x":33,"y":15,"p":"B"},{"x":34,"y":15,"p":"B"},{"x":39,"y":15,"p":"R"},{"x":41,"y":15,"p":"B"},{"x":43,"y":15,"p":"B"},{"x":45,"y":15,"p":"B"},{"x":47,"y":15,"p":"B"},{"x":49,"y":15,"p":"B"},{"x":51,"y":15,"p":"B"},{"x":65,"y":15,"p":"B"},{"x":23,"y":16,"p":"B"},{"x":27,"y":16,"p":"F"},{"x":28,"y":16,"p":"F"},{"x":30,"y":16,"p":"B"},{"x":32,"y":16,"p":"B"},{"x":34,"y":16,"p":"B"},{"x":35,"y":16,"p":"R"},{"x":36,"y":16,"p":"B"},{"x":38,"y":16,"p":"B"},{"x":40,"y":16,"p":"B"},{"x":42,"y":16,"p":"B"},{"x":44,"y":16,"p":"R"},{"x":46,"y":16,"p":"R"},{"x":47,"y":16,"p":"H"},{"x":53,"y":16,"p":"B"},{"x":55,"y":16,"p":"B"},{"x":57,"y":16,"p":"B"},{"x":59,"y":16,"p":"B"},{"x":61,"y":16,"p":"B"},{"x":68,"y":16,"p":"B"},{"x":26,"y":17,"p":"B"},{"x":36,"y":17,"p":"B"},{"x":38,"y":17,"p":"B"},{"x":40,"y":17,"p":"B"},{"x":42,"y":17,"p":"B"},{"x":43,"y":17,"p":"A"},{"x":44,"y":17,"p":"B"},{"x":46,"y":17,"p":"B"},{"x":48,"y":17,"p":"B"},{"x":50,"y":17,"p":"B"},{"x":52,"y":17,"p":"B"},{"x":54,"y":17,"p":"B"},{"x":58,"y":17,"p":"B"},{"x":60,"y":17,"p":"B"},{"x":62,"y":17,"p":"B"},{"x":64,"y":17,"p":"B"},{"x":84,"y":17,"p":"B"},{"x":86,"y":17,"p":"B"},{"x":30,"y":18,"p":"R"},{"x":34,"y":18,"p":"B"},{"x":36,"y":18,"p":"B"},{"x":38,"y":18,"p":"B"},{"x":40,"y":18,"p":"B"},{"x":42,"y":18,"p":"B"},{"x":44,"y":18,"p":"B"},{"x":46,"y":18,"p":"B"},{"x":48,"y":18,"p":"B"},{"x":52,"y":18,"p":"B"},{"x":54,"y":18,"p":"B"},{"x":56,"y":18,"p":"B"},{"x":59,"y":18,"p":"B"},{"x":61,"y":18,"p":"B"},{"x":63,"y":18,"p":"B"},{"x":65,"y":18,"p":"B"},{"x":67,"y":18,"p":"B"},{"x":81,"y":18,"p":"B"},{"x":85,"y":18,"p":"B"},{"x":95,"y":18,"p":"B"},{"x":33,"y":19,"p":"B"},{"x":40,"y":19,"p":"B"},{"x":42,"y":19,"p":"B"},{"x":44,"y":19,"p":"B"},{"x":46,"y":19,"p":"B"},{"x":48,"y":19,"p":"B"},{"x":50,"y":19,"p":"B"},{"x":52,"y":19,"p":"B"},{"x":54,"y":19,"p":"B"},{"x":55,"y":19,"p":"V"},{"x":57,"y":19,"p":"B"},{"x":59,"y":19,"p":"B"},{"x":61,"y":19,"p":"B"},{"x":63,"y":19,"p":"B"},{"x":65,"y":19,"p":"B"},{"x":67,"y":19,"p":"B"},{"x":69,"y":19,"p":"B"},{"x":71,"y":19,"p":"B"},{"x":73,"y":19,"p":"B"},{"x":76,"y":19,"p":"B"},{"x":80.5,"y":19,"p":"V"},{"x":84,"y":19,"p":"B"},{"x":86,"y":19,"p":"B"},{"x":91,"y":19,"p":"B"},{"x":95,"y":19,"p":"B"},{"x":98,"y":19,"p":"B"},{"x":45,"y":20,"p":"R"},{"x":46,"y":20,"p":"B"},{"x":48,"y":20,"p":"R"},{"x":52,"y":20,"p":"B"},{"x":53,"y":20,"p":"F"},{"x":57,"y":20,"p":"B"},{"x":59,"y":20,"p":"B"},{"x":61,"y":20,"p":"B"},{"x":63,"y":20,"p":"B"},{"x":65,"y":20,"p":"B"},{"x":67,"y":20,"p":"B"},{"x":69,"y":20,"p":"B"},{"x":71,"y":20,"p":"B"},{"x":73,"y":20,"p":"B"},{"x":75,"y":20,"p":"B"},{"x":78,"y":20,"p":"B"},{"x":80,"y":20,"p":"B"},{"x":82,"y":20,"p":"B"},{"x":87,"y":20,"p":"B"},{"x":95,"y":20,"p":"B"},{"x":100,"y":20,"p":"B"},{"x":51,"y":21,"p":"B"},{"x":53,"y":21,"p":"B"},{"x":56,"y":21,"p":"B"},{"x":58,"y":21,"p":"B"},{"x":60,"y":21,"p":"B"},{"x":62,"y":21,"p":"B"},{"x":64,"y":21,"p":"B"},{"x":66,"y":21,"p":"B"},{"x":68,"y":21,"p":"B"},{"x":70,"y":21,"p":"B"},{"x":72,"y":21,"p":"B"},{"x":74,"y":21,"p":"B"},{"x":76,"y":21,"p":"B"},{"x":78,"y":21,"p":"B"},{"x":81,"y":21,"p":"H"},{"x":84,"y":21,"p":"B"},{"x":86,"y":21,"p":"B"},{"x":90,"y":21,"p":"B"},{"x":108,"y":21,"p":"B"},{"x":46,"y":22,"p":"H"},{"x":57,"y":22,"p":"B"},{"x":59,"y":22,"p":"B"},{"x":61,"y":22,"p":"B"},{"x":67,"y":22,"p":"B"},{"x":69,"y":22,"p":"B"},{"x":71,"y":22,"p":"B"},{"x":73,"y":22,"p":"B"},{"x":75,"y":22,"p":"B"},{"x":77,"y":22,"p":"B"},{"x":79,"y":22,"p":"B"},{"x":81,"y":22,"p":"B"},{"x":83,"y":22,"p":"B"},{"x":85,"y":22,"p":"B"},{"x":87,"y":22,"p":"B"},{"x":89,"y":22,"p":"B"},{"x":91,"y":22,"p":"B"},{"x":93,"y":22,"p":"B"},{"x":95,"y":22,"p":"V"},{"x":98,"y":22,"p":"B"},{"x":74,"y":23,"p":"B"},{"x":76,"y":23,"p":"B"},{"x":78,"y":23,"p":"B"},{"x":82,"y":23,"p":"B"},{"x":84,"y":23,"p":"B"},{"x":86,"y":23,"p":"B"},{"x":88,"y":23,"p":"B"},{"x":90,"y":23,"p":"B"},{"x":92,"y":23,"p":"B"},{"x":94,"y":23,"p":"B"},{"x":96,"y":23,"p":"B"},{"x":99,"y":23,"p":"B"},{"x":105,"y":23,"p":"B"},{"x":125,"y":23,"p":"B"},{"x":140,"y":23,"p":"V"},{"x":67,"y":24,"p":"H"},{"x":71,"y":24,"p":"B"},{"x":73,"y":24,"p":"B"},{"x":77,"y":24,"p":"R"},{"x":80,"y":24,"p":"B"},{"x":82,"y":24,"p":"B"},{"x":84,"y":24,"p":"B"},{"x":86,"y":24,"p":"B"},{"x":89,"y":24,"p":"B"},{"x":93,"y":24,"p":"B"},{"x":95,"y":24,"p":"B"},{"x":97,"y":24,"p":"B"},{"x":109,"y":24,"p":"B"},{"x":117,"y":24,"p":"B"},{"x":122,"y":24,"p":"B"},{"x":124,"y":24,"p":"B"},{"x":74,"y":25,"p":"H"},{"x":87,"y":25,"p":"B"},{"x":97,"y":25,"p":"B"},{"x":97.5,"y":25,"p":"B"},{"x":103,"y":26,"p":"H"},{"x":110,"y":26,"p":"B"}],
"ell":[{"i":0,"x":42.9,"y":16.9},{"i":1,"x":47.1,"y":19.3},{"i":2,"x":58,"y":21.7},{"i":3,"x":72.6,"y":23.9},{"i":4,"x":87.2,"y":25.2},{"i":5,"x":101.8,"y":25.7},{"i":6,"x":114.6,"y":25.2},{"i":7,"x":121,"y":23.7},{"i":8,"x":120,"y":21.9},{"i":9,"x":110.9,"y":19.7},{"i":10,"x":98.1,"y":17.7},{"i":11,"x":83.6,"y":16.2},{"i":12,"x":69,"y":15.1},{"i":13,"x":58,"y":14.7},{"i":14,"x":48.9,"y":15.3},{"i":15,"x":43.8,"y":16.2},{"i":16,"x":42.9,"y":16.9}],
"rulesC":[{"x":53.6,"y":25.9,"x2":103,"y2":26},{"x":53.6,"y":25.9,"x2":74,"y2":25},{"x":53.6,"y":25.9,"x2":67.5,"y2":24},{"x":53.6,"y":25.9,"x2":46,"y2":22},{"x":2.8,"y":14.9,"x2":12,"y2":6},{"x":48.7,"y":4.7,"x2":23,"y2":4},{"x":48.7,"y":4.7,"x2":22,"y2":5},{"x":48.7,"y":4.7,"x2":25,"y2":6},{"x":48.7,"y":4.7,"x2":27,"y2":7},{"x":48.7,"y":4.7,"x2":28,"y2":8},{"x":48.7,"y":4.7,"x2":35,"y2":9},{"x":48.7,"y":4.7,"x2":42,"y2":12},{"x":2,"y":0,"x2":19,"y2":0},{"x":140,"y":23,"x2":130.6,"y2":18.4},{"x":107,"y":13.5,"x2":95,"y2":17.3}],
"labelsC":[{"x":22.4,"y":25.9,"t":"Fibrobacterota"},{"x":-6,"y":15.8,"t":"Firmicutes_A"},{"x":50,"y":4.7,"t":"Actinobacteriota"},{"x":20,"y":0,"t":"Proteobacteria"},{"x":116,"y":17.6,"t":"Verrucomicrobiota"},{"x":97,"y":12.8,"t":"Bacteroidota"}],
"rulesA":[{"x":-323.5,"y":-2,"x2":-317,"y2":-8},{"x":-180.5,"y":-1,"x2":-175.5,"y2":-7},{"x":298.2,"y":-2.3,"x2":304.5,"y2":-8},{"x":104.5,"y":66,"x2":135.5,"y2":66},{"x":19.5,"y":23,"x2":36.5,"y2":23},{"x":19.5,"y":21.5,"x2":19.5,"y2":24.5},{"x":36.5,"y":21.5,"x2":36.5,"y2":24.5}],
"labelsA":[{"x":-332.5,"y":-12,"t":"Genome  size"},{"x":-185.5,"y":-12,"t":"Phylum"},{"x":243.5,"y":-12,"t":"Lignocellulolytic CAZymes"},{"x":3,"y":49,"t":"Tree scale"},{"x":22,"y":33,"t":"0.1"}],
"letters":[{"x":-335.5,"y":356,"t":"a"},{"x":-343.5,"y":-50,"t":"b"},{"x":7.5,"y":-50,"t":"c"}]
},
"vconcat":[
{"width":718,"height":427,
"resolve":{"scale":{"radius":"independent","color":"independent"},"legend":{"color":"independent"}},
"layer":[
{"data":{"name":"bins"},"transform":[{"bin":{"step":0.5,"extent":[0,180]},"field":"a","as":["a0","a1"]}],"mark":{"type":"arc","color":"#bdbdbd","stroke":"#bdbdbd","strokeWidth":0.2},"encoding":{"x":{"datum":0,"type":"quantitative","scale":{"domain":[-362.5,355.5],"nice":false,"zero":false},"axis":null},"y":{"datum":0,"type":"quantitative","scale":{"domain":[-50,377],"nice":false,"zero":false},"axis":null},"theta":{"field":"a0","type":"quantitative","scale":{"domain":[0,180],"range":[-1.5708,1.5708]}},"theta2":{"field":"a1"},"radius":{"field":"g","type":"quantitative","scale":{"type":"linear","domain":[0,6],"range":[318.5,348.5]}},"radius2":{"datum":0}}},
{"data":{"name":"bins"},"transform":[{"bin":{"step":0.5,"extent":[0,180]},"field":"a","as":["a0","a1"]}],"mark":{"type":"arc"},"encoding":{"x":{"datum":0,"type":"quantitative","axis":null},"y":{"datum":0,"type":"quantitative","axis":null},"theta":{"field":"a0","type":"quantitative"},"theta2":{"field":"a1"},"radius":{"datum":290.5,"type":"quantitative","scale":{"type":"linear","domain":[0,400],"range":[0,400]}},"radius2":{"datum":305.5},"color":{"field":"h","type":"quantitative","scale":{"type":"linear","interpolate":"rgb","domain":[1,70,140],"range":["#ffffff","#9b8dbb","#3a1c7d"]},"legend":{"type":"symbol","values":[1,70,140],"title":"Lignocellulolytic CAZymes","titleFontSize":7.6,"titleFontWeight":"normal","titleColor":"#333","symbolType":"square","symbolSize":225,"orient":"none","legendX":467,"legendY":300,"rowPadding":0,"titlePadding":6,"symbolStrokeWidth":0}}}},
{"data":{"values":[{"p":"Bacteroidota","a0":112.6,"a1":180},{"p":"Firmicutes_A","a0":0,"a1":66.8},{"p":"Firmicutes","a0":67.5,"a1":79.2},{"p":"Spirochaetota","a0":90.9,"a1":98.6},{"p":"Proteobacteria","a0":101.3,"a1":109.4},{"p":"Firmicutes_C","a0":79.2,"a1":85.7},{"p":"Methanobacteriota","a0":88.3,"a1":90.9}]},"mark":{"type":"arc","opacity":0.85},"encoding":{"x":{"datum":0,"type":"quantitative","axis":null},"y":{"datum":0,"type":"quantitative","axis":null},"theta":{"field":"a0","type":"quantitative"},"theta2":{"field":"a1"},"radius":{"datum":100,"type":"quantitative","scale":{"type":"linear","domain":[0,400],"range":[0,400]}},"radius2":{"datum":276},"color":{"field":"p","type":"nominal","scale":{"domain":["Bacteroidota","Firmicutes_A","Firmicutes","Spirochaetota","Proteobacteria","Firmicutes_C","Methanobacteriota"],"range":["#6c4e99","#ba3d46","#3d7ca8","#1c8420","#8ccc7c","#f3d055","#e6e2a0"]},"legend":{"title":null,"orient":"none","legendX":15,"legendY":39,"symbolType":"square","symbolSize":100,"symbolStrokeColor":"#555","symbolStrokeWidth":1,"rowPadding":0}}}},
{"data":{"values":[{"p":"Actinobacteriota","a0":85.7,"a1":87.8},{"p":"Fibrobacterota","a0":109.9,"a1":111},{"p":"Elusimicrobiota","a0":66.8,"a1":67.5},{"p":"Verrucomicrobiota","a0":111,"a1":112.1},{"p":"Cyanobacteria","a0":99.1,"a1":99.9}]},"mark":{"type":"arc","opacity":0.85},"encoding":{"x":{"datum":0,"type":"quantitative","axis":null},"y":{"datum":0,"type":"quantitative","axis":null},"theta":{"field":"a0","type":"quantitative"},"theta2":{"field":"a1"},"radius":{"datum":100,"type":"quantitative","scale":{"type":"linear","domain":[0,400],"range":[0,400]}},"radius2":{"datum":276},"color":{"field":"p","type":"nominal","scale":{"domain":["Actinobacteriota","Fibrobacterota","Elusimicrobiota","Verrucomicrobiota","Cyanobacteria"],"range":["#fdbf8b","#67add3","#8a90c6","#e5c494","#eee8d5"]},"legend":{"title":null,"orient":"none","legendX":102,"legendY":11,"symbolType":"square","symbolSize":100,"symbolStrokeColor":"#555","symbolStrokeWidth":1,"rowPadding":0}}}},
{"data":{"values":[{"p":"UBP6","a0":112.1,"a1":112.6},{"p":"Planctomycetota","a0":109.4,"a1":109.9},{"p":"Halobacteriota","a0":87.8,"a1":88.3}]},"mark":{"type":"arc","opacity":0.85},"encoding":{"x":{"datum":0,"type":"quantitative","axis":null},"y":{"datum":0,"type":"quantitative","axis":null},"theta":{"field":"a0","type":"quantitative"},"theta2":{"field":"a1"},"radius":{"datum":100,"type":"quantitative","scale":{"type":"linear","domain":[0,400],"range":[0,400]}},"radius2":{"datum":276},"color":{"field":"p","type":"nominal","scale":{"domain":["UBP6","Planctomycetota","Halobacteriota","Desulfobacterota_I","Chloroflexota"],"range":["#fb9a99","#2f9e2a","#b2df8a","#a6cee3","#c2a5cf"]},"legend":{"title":null,"orient":"none","legendX":545,"legendY":10,"symbolType":"square","symbolSize":100,"symbolStrokeColor":"#555","symbolStrokeWidth":1,"rowPadding":0}}}},
{"data":{"values":[{"p":"Riflebacteria","a0":98.6,"a1":99.1},{"p":"Patescibacteria","a0":99.9,"a1":100.9},{"p":"Myxococcota","a0":100.9,"a1":101.3}]},"mark":{"type":"arc","opacity":0.85},"encoding":{"x":{"datum":0,"type":"quantitative","axis":null},"y":{"datum":0,"type":"quantitative","axis":null},"theta":{"field":"a0","type":"quantitative"},"theta2":{"field":"a1"},"radius":{"datum":100,"type":"quantitative","scale":{"type":"linear","domain":[0,400],"range":[0,400]}},"radius2":{"datum":276},"color":{"field":"p","type":"nominal","scale":{"domain":["Thermoplasmatota","Synergistota","Riflebacteria","Patescibacteria","Myxococcota","Eremiobacterota"],"range":["#fdb462","#c2a5cf","#fc8d59","#8da0cb","#ffff99","#dfc27d"]},"legend":{"title":null,"orient":"none","legendX":633,"legendY":38,"symbolType":"square","symbolSize":100,"symbolStrokeColor":"#555","symbolStrokeWidth":1,"rowPadding":0}}}},
{"data":{"name":"bins"},"transform":[{"bin":{"step":0.5,"extent":[0,180]},"field":"a","as":["a0","a1"]}],"mark":{"type":"arc","color":"white","stroke":"white","strokeWidth":0.9},"encoding":{"x":{"datum":0,"type":"quantitative","axis":null},"y":{"datum":0,"type":"quantitative","axis":null},"theta":{"field":"a0","type":"quantitative"},"theta2":{"field":"a1"},"radius":{"field":"t","type":"quantitative","scale":{"type":"linear","domain":[0,400],"range":[0,400]}},"radius2":{"datum":0}}},
{"data":{"name":"bins"},"transform":[{"bin":{"step":0.5,"extent":[0,180]},"field":"a","as":["a0","a1"]}],"mark":{"type":"arc","color":"#383838"},"encoding":{"x":{"datum":0,"type":"quantitative","axis":null},"y":{"datum":0,"type":"quantitative","axis":null},"theta":{"field":"a0","type":"quantitative"},"theta2":{"field":"a1"},"radius":{"field":"d","type":"quantitative","scale":{"type":"linear","domain":[0,400],"range":[0,400]}},"radius2":{"field":"t"}}},
{"data":{"name":"tree"},"mark":{"type":"arc","fill":"#333333","stroke":"#333333","strokeWidth":0.7},"encoding":{"x":{"datum":0,"type":"quantitative","axis":null},"y":{"datum":0,"type":"quantitative","axis":null},"theta":{"field":"a0","type":"quantitative"},"theta2":{"field":"a1"},"radius":{"field":"r0","type":"quantitative","scale":{"type":"linear","domain":[0,400],"range":[0,400]}},"radius2":{"field":"r1"}}},
{"data":{"values":[{"x":-362.5,"x2":355.5,"y":-297,"y2":377}]},"mark":{"type":"rect","fillOpacity":0,"stroke":"black","strokeWidth":2},"encoding":{"x":{"field":"x","type":"quantitative","axis":null},"y":{"field":"y","type":"quantitative","axis":null},"x2":{"field":"x2"},"y2":{"field":"y2"}}},
{"data":{"name":"rulesA"},"mark":{"type":"rule","color":"#333","strokeWidth":0.8},"encoding":{"x":{"field":"x","type":"quantitative","axis":null},"y":{"field":"y","type":"quantitative","axis":null},"x2":{"field":"x2"},"y2":{"field":"y2"}}},
{"data":{"name":"labelsA"},"mark":{"type":"text","font":"Liberation Sans","fontSize":8.6,"align":"left","color":"#222"},"encoding":{"x":{"field":"x","type":"quantitative","axis":null},"y":{"field":"y","type":"quantitative","axis":null},"text":{"field":"t"}}},
{"data":{"name":"letters"},"mark":{"type":"text","font":"Liberation Serif","fontSize":13,"align":"left","color":"#222"},"encoding":{"x":{"field":"x","type":"quantitative","axis":null},"y":{"field":"y","type":"quantitative","axis":null},"text":{"field":"t"}}}
]},
{"bounds":"flush","spacing":81,"hconcat":[
{"width":339,"height":216,"layer":[
{"data":{"name":"scat"},"mark":{"type":"circle","size":28,"color":"#cfcfcf","opacity":1},"encoding":{"x":{"field":"x","type":"quantitative","title":"Genome size (Mbp)","scale":{"domain":[0.557,7.485],"range":[59,339],"nice":false,"zero":false},"axis":{"values":[2,4,6],"titlePadding":3}},"y":{"field":"y","type":"quantitative","title":"Lignocellulolytic CAZymes","scale":{"domain":[-24.4,151],"nice":false,"zero":false},"axis":{"values":[0,50,100,150],"offset":-59,"titlePadding":8}}}},
{"data":{"name":"fit"},"mark":{"type":"area","color":"#dddddd","opacity":0.8},"encoding":{"x":{"field":"x","type":"quantitative"},"y":{"field":"lo","type":"quantitative"},"y2":{"field":"hi"}}},
{"data":{"name":"fit"},"mark":{"type":"line","color":"#6a3d9a","strokeWidth":2.2},"encoding":{"x":{"field":"x","type":"quantitative"},"y":{"field":"y","type":"quantitative"}}},
{"data":{"values":[{"x":0.83,"y":138,"t":"R = 0.661"},{"x":2.38,"y":138,"t":"< 0.001"}]},"mark":{"type":"text","align":"left","fontSize":8.2,"color":"#222"},"encoding":{"x":{"field":"x","type":"quantitative"},"y":{"field":"y","type":"quantitative"},"text":{"field":"t"}}},
{"data":{"values":[{"x":2.12,"y":138,"t":"P"}]},"mark":{"type":"text","align":"left","fontSize":8.2,"fontStyle":"italic","color":"#222"},"encoding":{"x":{"field":"x","type":"quantitative"},"y":{"field":"y","type":"quantitative"},"text":{"field":"t"}}}
]},
{"width":280,"height":216,"layer":[
{"data":{"name":"cazy"},"mark":{"type":"circle","opacity":1},"encoding":{"x":{"field":"x","type":"quantitative","title":"Number of genes encoding lignocellulolytic CAZymes","scale":{"domain":[-7.1,146],"nice":false,"zero":false},"axis":{"values":[0,50,100],"titlePadding":3}},"y":{"field":"y","type":"quantitative","title":"Number of families encoding lignocellulolytic CAZymes","scale":{"domain":[-1.25,27.3],"nice":false,"zero":false},"axis":{"values":[0,10,20],"titlePadding":8}},"color":{"field":"p","type":"nominal","legend":null,"scale":{"domain":["B","R","F","L","A","G","Y","H","V","S"],"range":["#5b3a96","#d0242a","#216ea3","#ddd9ea","#fdbf8b","#98d18a","#ffcf1f","#67add3","#e5c494","#3aa53a"]}},"size":{"field":"p","type":"nominal","legend":null,"scale":{"domain":["B","R","F","L","A","G","Y","H","V","S"],"range":[17,17,17,28,28,28,17,28,28,28]}}}},
{"data":{"name":"rulesC"},"mark":{"type":"rule","color":"#222","strokeWidth":0.8},"encoding":{"x":{"field":"x","type":"quantitative"},"y":{"field":"y","type":"quantitative"},"x2":{"field":"x2"},"y2":{"field":"y2"}}},
{"data":{"name":"ell"},"mark":{"type":"line","color":"#333","strokeWidth":0.9,"interpolate":"cardinal"},"encoding":{"x":{"field":"x","type":"quantitative"},"y":{"field":"y","type":"quantitative"},"order":{"field":"i","type":"quantitative"}}},
{"data":{"name":"labelsC"},"mark":{"type":"text","align":"left","fontSize":8.6,"color":"#222"},"encoding":{"x":{"field":"x","type":"quantitative"},"y":{"field":"y","type":"quantitative"},"text":{"field":"t"}}}
]}
]}
]}
